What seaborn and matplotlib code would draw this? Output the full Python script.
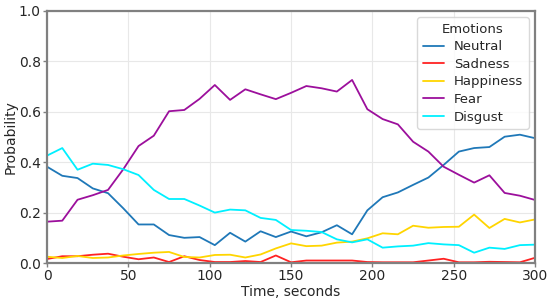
import numpy as np
import pandas as pd
import seaborn as sns
import matplotlib.pyplot as plt

# 33 samples, 0..300 s
time = np.linspace(0, 300, 33)

neutral = [0.382, 0.346, 0.337, 0.296, 0.277, 0.217, 0.153, 0.153, 0.111, 0.100,
           0.103, 0.071, 0.120, 0.085, 0.126, 0.103, 0.125, 0.106, 0.122, 0.150,
           0.114, 0.209, 0.261, 0.280, 0.310, 0.339, 0.389, 0.442, 0.456, 0.460,
           0.501, 0.509, 0.495]
sadness = [0.016, 0.027, 0.027, 0.033, 0.037, 0.025, 0.015, 0.022, 0.004, 0.027,
           0.012, 0.004, 0.004, 0.008, 0.004, 0.030, 0.003, 0.010, 0.010, 0.010,
           0.010, 0.004, 0.003, 0.003, 0.003, 0.010, 0.017, 0.003, 0.003, 0.005,
           0.004, 0.003, 0.021]
happiness = [0.025, 0.020, 0.028, 0.020, 0.022, 0.030, 0.036, 0.041, 0.044, 0.024,
             0.022, 0.032, 0.033, 0.022, 0.034, 0.058, 0.078, 0.067, 0.069, 0.081,
             0.085, 0.098, 0.118, 0.114, 0.148, 0.140, 0.143, 0.144, 0.192, 0.139,
             0.175, 0.161, 0.173]
fear = [0.164, 0.168, 0.251, 0.269, 0.290, 0.372, 0.464, 0.505, 0.602, 0.607,
        0.651, 0.706, 0.647, 0.689, 0.669, 0.650, 0.675, 0.702, 0.693, 0.680,
        0.726, 0.610, 0.571, 0.550, 0.481, 0.442, 0.382, 0.350, 0.319, 0.348,
        0.278, 0.267, 0.250]
disgust = [0.426, 0.456, 0.370, 0.394, 0.389, 0.372, 0.349, 0.290, 0.254, 0.254,
           0.228, 0.200, 0.212, 0.209, 0.179, 0.171, 0.131, 0.128, 0.123, 0.094,
           0.082, 0.094, 0.061, 0.066, 0.069, 0.079, 0.074, 0.071, 0.041, 0.061,
           0.056, 0.071, 0.073]

emotions = ['Neutral', 'Sadness', 'Happiness', 'Fear', 'Disgust']
colors = ['#1f78b8', '#ff2222', '#ffd500', '#9c0f9c', '#00f0ff']

df = pd.DataFrame({'Time': time, 'Neutral': neutral, 'Sadness': sadness,
                   'Happiness': happiness, 'Fear': fear, 'Disgust': disgust})
df = df.melt(id_vars='Time', var_name='Emotions', value_name='Probability')

sns.set_style('whitegrid')
plt.rcParams['font.family'] = ['DejaVu Sans']

fig, ax = plt.subplots(figsize=(5.5, 3.02), dpi=100)
fig.subplots_adjust(left=0.0855, right=0.973, top=0.964, bottom=0.129)

sns.lineplot(data=df, x='Time', y='Probability', hue='Emotions',
             hue_order=emotions, palette=colors, linewidth=1.3, ax=ax)

ax.set_xlim(0, 300)
ax.set_ylim(0, 1)
ax.set_xticks([0, 50, 100, 150, 200, 250, 300])
ax.set_yticks([0, 0.2, 0.4, 0.6, 0.8, 1.0])
ax.set_xlabel('Time, seconds', fontsize=10, labelpad=1)
ax.set_ylabel('Probability', fontsize=10, labelpad=1)
ax.tick_params(labelsize=10, length=3, width=1, color='#808080', bottom=True, left=True, pad=1.5)
ax.grid(color='#e8e8e8', linewidth=0.8)
for s in ax.spines.values():
    s.set_color('#808080')
    s.set_linewidth(1.6)

leg = ax.legend(title='Emotions', loc='upper right', fontsize=9.5, title_fontsize=9.5,
                frameon=True, borderpad=0.4, handlelength=1.6, labelspacing=0.35,
                borderaxespad=0.3, bbox_to_anchor=(0.995, 0.99))
leg.get_frame().set_edgecolor('#d0d0d0')

plt.savefig('out.png', dpi=100)
